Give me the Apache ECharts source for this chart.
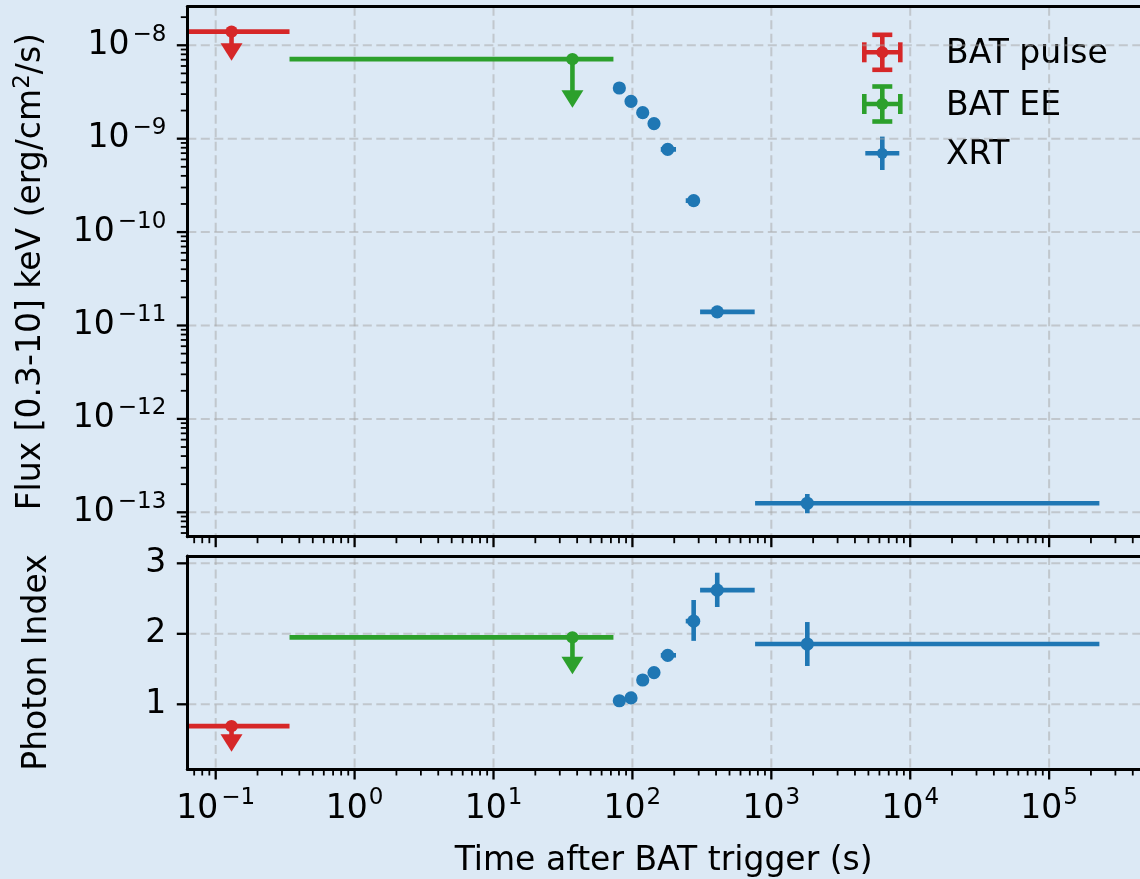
<!DOCTYPE html>
<html><head><meta charset="utf-8">
<script src="https://cdn.jsdelivr.net/npm/echarts@6/dist/echarts.min.js"></script>
<style>html,body{margin:0;padding:0;background:#dce9f5;overflow:hidden}#c{width:1140px;height:879px}</style>
</head><body><div id="c"></div>
<script>
// ---------------- data ----------------
const batPulseTime = [0.13];
const batPulseTimeLo = [0.01];
const batPulseTimeHi = [0.34];
const batPulseFlux = [1.4e-8];
const batPulseFluxLimitEnd = [1.05e-8];
const batPulseIndex = [0.69];
const batPulseIndexLimitEnd = [0.575];

const batEETime = [37];
const batEETimeLo = [0.34];
const batEETimeHi = [73];
const batEEFlux = [7.1e-9];
const batEEFluxLimitEnd = [3.3e-9];
const batEEIndex = [1.95];
const batEEIndexLimitEnd = [1.675];

const xrtTime   = [80.5, 97.7, 118.6, 143, 179.5, 276, 408, 1816];
const xrtTimeLo = [78, 94.5, 114.5, 138, 160, 242, 307, 764];
const xrtTimeHi = [83, 101, 123, 148, 206, 290, 759, 2.3e5];
const xrtFlux   = [3.49e-9, 2.51e-9, 1.90e-9, 1.45e-9, 7.69e-10, 2.17e-10, 1.40e-11, 1.25e-13];
const xrtFluxLo = [3.35e-9, 2.40e-9, 1.82e-9, 1.39e-9, 7.35e-10, 2.07e-10, 1.33e-11, 9.75e-14];
const xrtFluxHi = [3.63e-9, 2.62e-9, 1.98e-9, 1.51e-9, 8.05e-10, 2.27e-10, 1.47e-11, 1.57e-13];
const xrtIndex   = [1.05, 1.09, 1.345, 1.45, 1.695, 2.18, 2.62, 1.855];
const xrtIndexLo = [1.01, 1.05, 1.305, 1.41, 1.655, 1.90, 2.38, 1.543];
const xrtIndexHi = [1.09, 1.13, 1.385, 1.49, 1.735, 2.48, 2.867, 2.167];

// axis ranges & tick labels
const timeRange  = [0.06245, 4.51e5];
const fluxRange  = [5.48e-14, 2.588e-8];
const indexRange = [0.082, 3.104];
const timeTickExponents = [-1, 0, 1, 2, 3, 4, 5];
const fluxTickExponents = [-13, -12, -11, -10, -9, -8];
const indexTicks = [1, 2, 3];

// ---------------- styling ----------------
const FONT = 'DejaVu Sans';
const RED = '#d62728', GREEN = '#2ca02c', BLUE = '#1f77b4';
const BG = '#dce9f5';
const GRIDC = 'rgba(165,165,165,0.5)';
const LW = 4.6, MR = 6.6;

const richPow = {
  b: {fontFamily: FONT, fontSize: 33, lineHeight: 44, color: '#000'},
  s: {fontFamily: FONT, fontSize: 23, lineHeight: 24, verticalAlign: 'top', color: '#000', padding: [0, 0, 0, 1]},
  n: {fontFamily: FONT, fontSize: 23, lineHeight: 24, verticalAlign: 'top', color: '#000', padding: [0, 0, 0, 3]}
};
function powLabel(exps) {
  return function (v) {
    const l = Math.log10(v), e = Math.round(l);
    if (Math.abs(l - e) > 1e-6 || exps.indexOf(e) < 0) return '';
    return e < 0 ? '{b|10}{n|\u2212' + (-e) + '}' : '{b|10}{s|' + e + '}';
  };
}
function logTicks(range, exps) {
  const out = [];
  const lo = Math.floor(Math.log10(range[0])), hi = Math.ceil(Math.log10(range[1]));
  for (let e = lo; e <= hi; e++) for (let k = 1; k <= 9; k++) {
    const v = k * Math.pow(10, e);
    if (v >= range[0] && v <= range[1]) out.push([v, (k === 1 && exps.indexOf(e) >= 0) ? 1 : 0]);
  }
  return out;
}

// tick + grid line renderers (use the library's coordinate conversion)
function xTickRender(params, api) {
  const cs = params.coordSys;
  const x = api.coord([api.value(0), api.value(1)])[0];
  const major = api.value(2) === 1;
  const yb = cs.y + cs.height;
  const ch = [{type: 'line', shape: {x1: x, y1: yb, x2: x, y2: yb + (major ? 10.5 : 6.5)},
               style: {stroke: '#000', lineWidth: major ? 2.3 : 1.8}}];
  if (major) ch.push({type: 'line', shape: {x1: x, y1: cs.y, x2: x, y2: yb},
               style: {stroke: GRIDC, lineWidth: 2, lineDash: [9, 4.5]}});
  return {type: 'group', children: ch};
}
function yTickRender(params, api) {
  const cs = params.coordSys;
  const y = api.coord([api.value(0), api.value(1)])[1];
  const major = api.value(2) === 1;
  const ch = [{type: 'line', shape: {x1: cs.x, y1: y, x2: cs.x - (major ? 10.5 : 6.5), y2: y},
               style: {stroke: '#000', lineWidth: major ? 2.3 : 1.8}}];
  if (major) ch.push({type: 'line', shape: {x1: cs.x, y1: y, x2: cs.x + cs.width, y2: y},
               style: {stroke: GRIDC, lineWidth: 2, lineDash: [9, 4.5]}});
  return {type: 'group', children: ch};
}

// error bar renderers
function errRender(color) {
  return function (params, api) {
    const t = api.value(0), tl = api.value(1), th = api.value(2);
    const y = api.value(3), yl = api.value(4), yh = api.value(5);
    const c = api.coord([t, y]), pl = api.coord([tl, y]), pr = api.coord([th, y]);
    const pb = api.coord([t, yl]), pt = api.coord([t, yh]);
    return {type: 'group', children: [
      {type: 'line', shape: {x1: pl[0], y1: c[1], x2: pr[0], y2: c[1]}, style: {stroke: color, lineWidth: LW}},
      {type: 'line', shape: {x1: c[0], y1: pb[1], x2: c[0], y2: pt[1]}, style: {stroke: color, lineWidth: LW}},
      {type: 'circle', shape: {cx: c[0], cy: c[1], r: MR}, style: {fill: color}}
    ]};
  };
}
function limRender(color) {
  return function (params, api) {
    const t = api.value(0), tl = api.value(1), th = api.value(2);
    const y = api.value(3), ye = api.value(4);
    const c = api.coord([t, y]), pl = api.coord([tl, y]), pr = api.coord([th, y]);
    const pe = api.coord([t, ye]);
    return {type: 'group', children: [
      {type: 'line', shape: {x1: pl[0], y1: c[1], x2: pr[0], y2: c[1]}, style: {stroke: color, lineWidth: LW}},
      {type: 'line', shape: {x1: c[0], y1: c[1], x2: c[0], y2: pe[1] + 1}, style: {stroke: color, lineWidth: LW}},
      {type: 'polygon', shape: {points: [[c[0] - 11, pe[1]], [c[0] + 11, pe[1]], [c[0], pe[1] + 17.5]]}, style: {fill: color}},
      {type: 'circle', shape: {cx: c[0], cy: c[1], r: MR - 0.4}, style: {fill: color}}
    ]};
  };
}

// build series data from the arrays
const pulseFluxData = batPulseTime.map((t, i) => [t, batPulseTimeLo[i], batPulseTimeHi[i], batPulseFlux[i], batPulseFluxLimitEnd[i]]);
const pulseIndexData = batPulseTime.map((t, i) => [t, batPulseTimeLo[i], batPulseTimeHi[i], batPulseIndex[i], batPulseIndexLimitEnd[i]]);
const eeFluxData = batEETime.map((t, i) => [t, batEETimeLo[i], batEETimeHi[i], batEEFlux[i], batEEFluxLimitEnd[i]]);
const eeIndexData = batEETime.map((t, i) => [t, batEETimeLo[i], batEETimeHi[i], batEEIndex[i], batEEIndexLimitEnd[i]]);
const xrtFluxData = xrtTime.map((t, i) => [t, xrtTimeLo[i], xrtTimeHi[i], xrtFlux[i], xrtFluxLo[i], xrtFluxHi[i]]);
const xrtIndexData = xrtTime.map((t, i) => [t, xrtTimeLo[i], xrtTimeHi[i], xrtIndex[i], xrtIndexLo[i], xrtIndexHi[i]]);

const xTicks = logTicks(timeRange, timeTickExponents);
const fluxTicks = logTicks(fluxRange, fluxTickExponents);

const spine = {show: true, lineStyle: {color: '#000', width: 3}};
const GL = 187.3;

function xAx(grid, pos, labels) {
  return {type: 'log', logBase: 10, gridIndex: grid, position: pos, min: timeRange[0], max: timeRange[1],
    z: 10, axisLine: spine, axisTick: {show: false}, splitLine: {show: false}, minorTick: {show: false},
    axisLabel: labels ? {show: true, margin: 18, formatter: powLabel(timeTickExponents), rich: richPow,
      showMinLabel: false, showMaxLabel: false} : {show: false},
    name: labels ? 'Time after BAT trigger (s)' : '', nameLocation: 'middle', nameGap: 76,
    nameTextStyle: {fontFamily: FONT, fontSize: 33, color: '#000'}};
}

const option = {
  backgroundColor: BG,
  animation: false,
  grid: [
    {left: GL, top: 6.7, right: 0, height: 530},
    {left: GL, top: 556, right: 0, height: 213}
  ],
  xAxis: [xAx(0, 'bottom', false), xAx(0, 'top', false), xAx(1, 'bottom', true), xAx(1, 'top', false)],
  yAxis: [
    {type: 'log', logBase: 10, gridIndex: 0, min: fluxRange[0], max: fluxRange[1], z: 10,
     axisLine: spine, axisTick: {show: false}, splitLine: {show: false}, minorTick: {show: false},
     axisLabel: {margin: 21, formatter: powLabel(fluxTickExponents), rich: richPow, showMinLabel: false, showMaxLabel: false},
     name: '{t|Flux [0.3-10] keV (erg/cm}{s|2}{t|/s)}', nameLocation: 'middle', nameGap: 136,
     nameTextStyle: {rich: {t: {fontFamily: FONT, fontSize: 33, lineHeight: 40, color: '#000'},
                            s: {fontFamily: FONT, fontSize: 23, lineHeight: 24, verticalAlign: 'top', color: '#000'}}}},
    {type: 'value', gridIndex: 1, min: indexRange[0], max: indexRange[1], splitNumber: 3, z: 10,
     axisLine: spine, axisTick: {show: false}, splitLine: {show: false},
     axisLabel: {margin: 21, fontFamily: FONT, fontSize: 33, color: '#000',
       formatter: v => indexTicks.some(t => Math.abs(t - v) < 1e-9) ? String(v) : ''},
     name: 'Photon Index', nameLocation: 'middle', nameGap: 133,
     nameTextStyle: {fontFamily: FONT, fontSize: 33, color: '#000'}}
  ],
  series: [
    {type: 'custom', xAxisIndex: 0, yAxisIndex: 0, z: 1, renderItem: xTickRender, encode: {x: 0, y: 1},
     data: xTicks.map(t => [t[0], fluxRange[0], t[1]])},
    {type: 'custom', xAxisIndex: 0, yAxisIndex: 0, z: 1, renderItem: yTickRender, encode: {x: 0, y: 1},
     data: fluxTicks.map(t => [timeRange[0], t[0], t[1]])},
    {type: 'custom', xAxisIndex: 2, yAxisIndex: 1, z: 1, renderItem: xTickRender, encode: {x: 0, y: 1},
     data: xTicks.map(t => [t[0], indexRange[0], t[1]])},
    {type: 'custom', xAxisIndex: 2, yAxisIndex: 1, z: 1, renderItem: yTickRender, encode: {x: 0, y: 1},
     data: indexTicks.map(v => [timeRange[0], v, 1])},

    {name: 'BAT pulse', type: 'custom', xAxisIndex: 0, yAxisIndex: 0, z: 3, clip: true, renderItem: limRender(RED), encode: {x: 0, y: 3}, data: pulseFluxData},
    {name: 'BAT EE', type: 'custom', xAxisIndex: 0, yAxisIndex: 0, z: 3, clip: true, renderItem: limRender(GREEN), encode: {x: 0, y: 3}, data: eeFluxData},
    {name: 'XRT', type: 'custom', xAxisIndex: 0, yAxisIndex: 0, z: 3, clip: true, renderItem: errRender(BLUE), encode: {x: 0, y: 3}, data: xrtFluxData},
    {name: 'BAT pulse', type: 'custom', xAxisIndex: 2, yAxisIndex: 1, z: 3, clip: true, renderItem: limRender(RED), encode: {x: 0, y: 3}, data: pulseIndexData},
    {name: 'BAT EE', type: 'custom', xAxisIndex: 2, yAxisIndex: 1, z: 3, clip: true, renderItem: limRender(GREEN), encode: {x: 0, y: 3}, data: eeIndexData},
    {name: 'XRT', type: 'custom', xAxisIndex: 2, yAxisIndex: 1, z: 3, clip: true, renderItem: errRender(BLUE), encode: {x: 0, y: 3}, data: xrtIndexData}
  ],
  graphic: []
};

// legend (upper right), drawn as errorbar glyphs + text
const legendItems = [
  {label: 'BAT pulse', color: RED, cy: 52.3, caps: true},
  {label: 'BAT EE', color: GREEN, cy: 104, caps: true},
  {label: 'XRT', color: BLUE, cy: 153.3, caps: false}
];
const lx = 882.3;
legendItems.forEach(it => {
  const st = {stroke: it.color, lineWidth: LW};
  const hw = it.caps ? 18 : 17, vh = it.caps ? 17.5 : 16.7;
  const g = [
    {type: 'line', shape: {x1: lx - hw, y1: it.cy, x2: lx + hw, y2: it.cy}, style: st},
    {type: 'line', shape: {x1: lx, y1: it.cy - vh, x2: lx, y2: it.cy + vh}, style: st},
    {type: 'circle', shape: {cx: lx, cy: it.cy, r: it.caps ? 6 : 5.5}, style: {fill: it.color}}
  ];
  if (it.caps) {
    g.push({type: 'line', shape: {x1: lx - hw, y1: it.cy - 10, x2: lx - hw, y2: it.cy + 10}, style: st});
    g.push({type: 'line', shape: {x1: lx + hw, y1: it.cy - 10, x2: lx + hw, y2: it.cy + 10}, style: st});
    g.push({type: 'line', shape: {x1: lx - 10, y1: it.cy - vh, x2: lx + 10, y2: it.cy - vh}, style: st});
    g.push({type: 'line', shape: {x1: lx - 10, y1: it.cy + vh, x2: lx + 10, y2: it.cy + vh}, style: st});
  }
  g.push({type: 'text', x: 946, y: it.cy + 2, style: {text: it.label, fontFamily: FONT, fontSize: 33,
          fill: '#000', textAlign: 'left', textVerticalAlign: 'middle'}});
  option.graphic.push({type: 'group', z: 20, children: g});
});

const chart = echarts.init(document.getElementById('c'), null, {renderer: 'canvas'});
chart.setOption(option);
</script>
</body></html>
